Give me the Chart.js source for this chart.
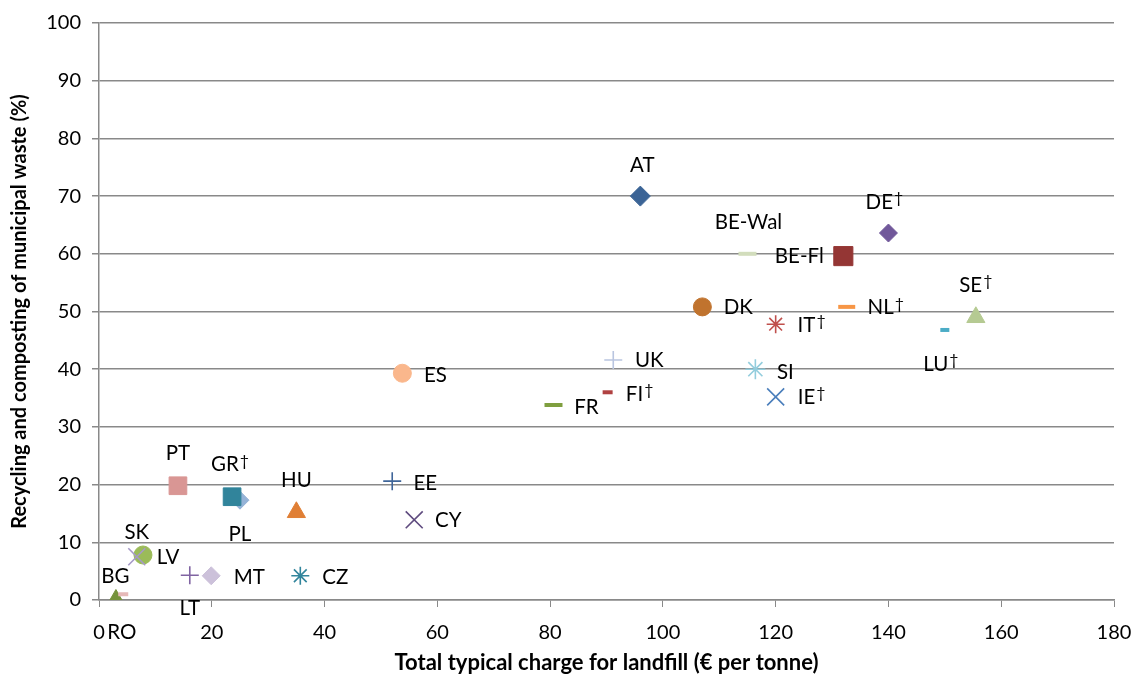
<!DOCTYPE html>
<html lang="en">
<head>
  <meta charset="UTF-8">
  <title>Landfill charge vs recycling</title>
  <script src="https://cdn.jsdelivr.net/npm/chart.js"></script>
  <style>
    html, body { margin: 0; padding: 0; background: #fff; }
    #wrap { width: 1135px; height: 677px; }
  </style>
</head>
<body>
  <div id="wrap"><canvas id="chart"></canvas></div>
  <script>
    // Countries (one point each)
    const countries = ['AT', 'BE-Wal', 'BE-Fl', 'DE†', 'DK', 'IT†', 'NL†', 'SE†', 'LU†', 'UK',
      'SI', 'IE†', 'FI†', 'FR', 'ES', 'EE', 'CY', 'HU', 'PT', 'GR†',
      'PL', 'SK', 'LV', 'LT', 'MT', 'CZ', 'BG', 'RO'];
    // Total typical charge for landfill (EUR per tonne)
    const landfillCharge = [96, 115, 132, 140, 107, 120, 132.6, 155.5, 150, 91.2,
      116.4, 120, 90.2, 80.6, 53.8, 52, 55.9, 35, 14, 23.6,
      25, 6.7, 7.8, 16.1, 19.9, 35.7, 4.3, 3];
    // Recycling and composting of municipal waste (%)
    const recyclingRate = [70, 60, 59.6, 63.6, 50.8, 47.8, 50.8, 49, 46.8, 41.6,
      40, 35.2, 36, 33.8, 39.3, 20.6, 13.9, 15.2, 19.8, 17.9,
      17.3, 7.5, 7.8, 4.3, 4.2, 4.2, 1, 0];
    const xTicks = [0, 20, 40, 60, 80, 100, 120, 140, 160, 180];
    const yTicks = [0, 10, 20, 30, 40, 50, 60, 70, 80, 90, 100];

    // marker look per country: [pointStyle, radius, colour, borderWidth]
    const markerStyle = [
      ['rectRot', 10, '#3b6496', 1], ['line', 9, '#d2ddbc', 4], ['rect', 13.5, '#943634', 1],
      ['rectRot', 9, '#71589a', 1], ['circle', 9, '#c0732e', 1], ['star', 9, '#c0504d', 1.6],
      ['line', 8.5, '#f79646', 4], ['triangle', 10.5, '#b5ca92', 1], ['line', 4.5, '#4bacc6', 4],
      ['cross', 9, '#b9c5e0', 1.6], ['star', 10, '#93cddd', 1.6], ['crossRot', 12, '#4a7ebb', 1.6],
      ['line', 5, '#b04141', 4], ['line', 9, '#7f9f3f', 4], ['circle', 9, '#fab78c', 1],
      ['cross', 9, '#3f6599', 1.6], ['crossRot', 12, '#5f4b7f', 1.6], ['triangle', 10.5, '#e07f35', 1],
      ['rect', 12.5, '#d99694', 1], ['rect', 12.5, '#31849b', 1], ['rectRot', 9, '#95b3d7', 1],
      ['crossRot', 12, '#a699c8', 1.6], ['circle', 9, '#9bbb59', 1], ['cross', 9, '#8064a2', 1.6],
      ['rectRot', 9, '#ccc1da', 1], ['star', 9, '#31859c', 1.6], ['line', 5, '#e6b9b8', 4],
      ['triangle', 10.5, '#76923c', 1]
    ];
    // label centre offset from its point, px
    const labelOffset = [
      [2, -31], [1, -31], [-44, 0], [-4, -31], [36, 1], [36, 1], [39, 1], [0, -32], [-4, 34], [36, 0],
      [30, 3], [36, 0], [32, 2], [33, 2], [33, 2], [33, 2], [34, 1], [0, -32], [0, -32], [-2, -32],
      [0, 34], [0, -24], [25, 2], [0, 33], [38, 2], [35, 2], [-8, -18], [6, 32]
    ];

    const datasets = countries.map((c, i) => {
      const [style, r, col, bw] = markerStyle[i];
      return {
        label: c,
        data: [{ x: landfillCharge[i], y: recyclingRate[i] }],
        pointStyle: style,
        pointRadius: r,
        pointHoverRadius: r,
        pointBackgroundColor: col,
        pointBorderColor: col,
        pointBorderWidth: bw,
        showLine: false
      };
    });

    const FONT = 'Lato, "Open Sans", sans-serif';

    const pointLabels = {
      id: 'pointLabels',
      afterDatasetsDraw(chart) {
        const ctx = chart.ctx;
        ctx.save();
        ctx.fillStyle = '#000';
        ctx.textBaseline = 'middle';
        chart.data.datasets.forEach((ds, i) => {
          const pt = chart.getDatasetMeta(i).data[0];
          const [dx, dy] = labelOffset[i];
          const cx = pt.x + dx, cy = pt.y + dy;
          let base = ds.label, dag = '';
          if (base.endsWith('†')) { base = base.slice(0, -1); dag = '†'; }
          ctx.font = '20.5px ' + FONT;
          const w1 = ctx.measureText(base).width;
          ctx.font = '16px ' + FONT;
          const w2 = dag ? ctx.measureText(dag).width + 1 : 0;
          const left = cx - (w1 + w2) / 2;
          ctx.textAlign = 'left';
          ctx.font = '20.5px ' + FONT;
          ctx.fillText(base, left, cy);
          if (dag) {
            ctx.font = '16px ' + FONT;
            ctx.fillText(dag, left + w1 + 1, cy - 4);
          }
        });
        ctx.restore();
      }
    };

    new Chart(document.getElementById('chart'), {
      type: 'scatter',
      data: { datasets },
      options: {
        responsive: true,
        maintainAspectRatio: false,
        animation: false,
        events: [],
        layout: { padding: { top: 23, right: 21, left: 0, bottom: 0 } },
        plugins: {
          legend: { display: false },
          tooltip: { enabled: false }
        },
        scales: {
          x: {
            type: 'linear',
            min: 0,
            max: 180,
            afterBuildTicks: (s) => { s.ticks = xTicks.map(v => ({ value: v })); },
            afterFit: (s) => { s.height = 77; s.paddingLeft = 0; s.paddingRight = 0; },
            grid: { drawOnChartArea: false, drawTicks: true, tickLength: 7, color: '#898989', lineWidth: 1 },
            border: { color: '#898989', width: 1.5 },
            ticks: { color: '#000', font: { family: FONT, size: 20 }, padding: 14 },
            title: {
              display: true,
              text: 'Total typical charge for landfill (€ per tonne)',
              color: '#000',
              font: { family: FONT, size: 22, weight: 'bold' },
              padding: { top: 0, bottom: 1 }
            }
          },
          y: {
            type: 'linear',
            min: 0,
            max: 100,
            afterBuildTicks: (s) => { s.ticks = yTicks.map(v => ({ value: v })); },
            afterFit: (s) => { s.width = 99; s.paddingTop = 0; s.paddingBottom = 0; },
            grid: { drawTicks: true, tickLength: 7, color: '#898989', lineWidth: 1.5 },
            border: { color: '#898989', width: 1.5 },
            ticks: { color: '#000', font: { family: FONT, size: 20 }, padding: 11 },
            title: {
              display: true,
              text: 'Recycling and composting of municipal waste (%)',
              color: '#000',
              font: { family: FONT, size: 20, weight: 'bold' },
              padding: { top: 8, bottom: 0 }
            }
          }
        }
      },
      plugins: [pointLabels]
    });
  </script>
</body>
</html>
